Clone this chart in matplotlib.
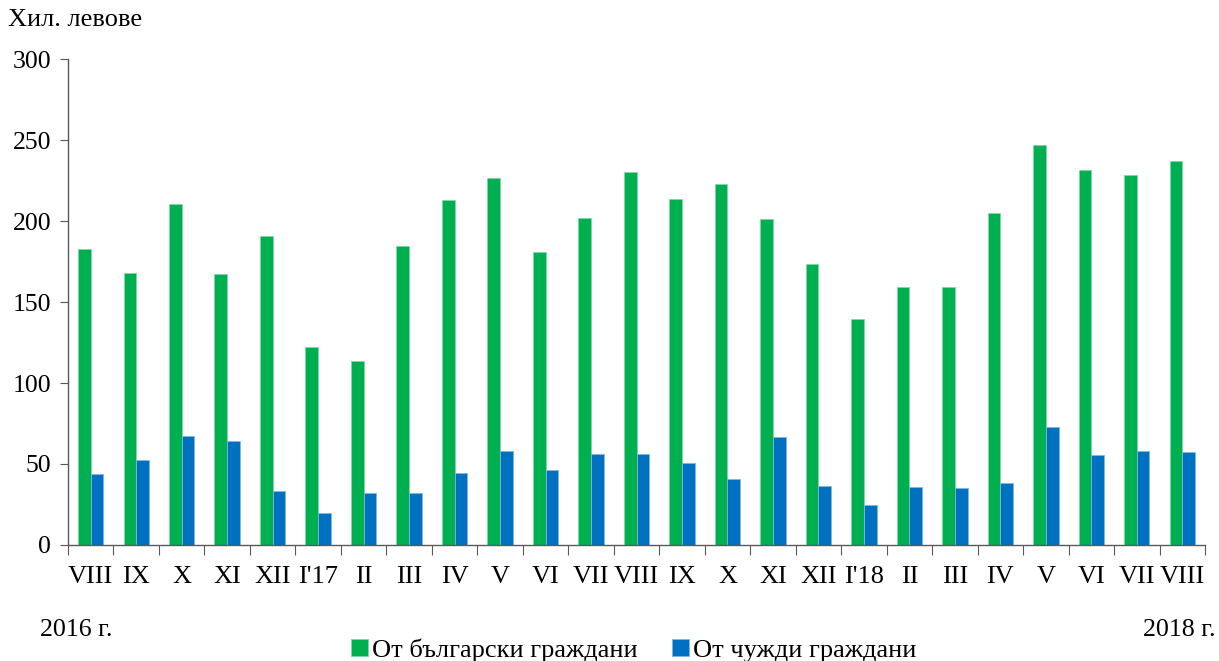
import matplotlib.pyplot as plt
import numpy as np

plt.rcParams['font.family'] = ['Liberation Serif', 'DejaVu Serif']

months = ['VIII', 'IX', 'X', 'XI', 'XII', "I'17", 'II', 'III', 'IV', 'V', 'VI', 'VII',
          'VIII', 'IX', 'X', 'XI', 'XII', "I'18", 'II', 'III', 'IV', 'V', 'VI', 'VII', 'VIII']
bulgarian = [183, 168, 210.5, 167, 191, 122, 113.4, 184.6, 213, 226.5, 180.7, 201.9,
             230.5, 213.8, 222.7, 201.5, 173.7, 139.5, 159.3, 159.3, 205.2, 247.2, 231.5, 228.2, 237]
foreign = [43.8, 52.5, 67.5, 64.4, 33.6, 20, 31.9, 31.9, 44.7, 58, 46.1, 56.4,
           56.4, 50.9, 40.6, 66.7, 36.7, 24.7, 35.8, 35.2, 38.3, 73.1, 55.8, 58, 57.2]

green = '#00B050'
blue = '#0070C0'
axis_col = '#595959'

fig = plt.figure(figsize=(12.19, 6.61), dpi=100)
ax = fig.add_axes([0.0558, 0.1755, 0.9327, 0.7352])

x = np.arange(len(months))
w = 0.28
ax.bar(x - w / 2, bulgarian, w, color=green, edgecolor='#7fd8a7', linewidth=0.6,
       label='От български граждани')
ax.bar(x + w / 2, foreign, w, color=blue, edgecolor='#7fb7e0', linewidth=0.6,
       label='От чужди граждани')

ax.set_xlim(-0.5, len(months) - 0.5)
ax.set_ylim(0, 300)
ax.set_yticks(range(0, 301, 50))
ax.tick_params(axis='y', labelsize=18.5, length=6, color=axis_col, direction='out', pad=6)

# boundary ticks as major, labels on minor ticks at centres
ax.set_xticks(np.arange(-0.5, len(months), 1))
ax.set_xticklabels([])
ax.set_xticks(x, minor=True)
ax.set_xticklabels(months, minor=True)
ax.tick_params(axis='x', which='major', length=7, color=axis_col, direction='out')
ax.tick_params(axis='x', which='minor', length=0, labelsize=19, pad=15)

for side in ['top', 'right']:
    ax.spines[side].set_visible(False)
for side in ['left', 'bottom']:
    ax.spines[side].set_color(axis_col)
    ax.spines[side].set_linewidth(1.0)

fig.text(0.0066, 1 - 20 / 661, 'Хил. левове', fontsize=19, va='center', ha='left')
fig.text(0.033, 1 - 630 / 661, '2016 г.', fontsize=18.7, va='center', ha='left')
fig.text(0.997, 1 - 630 / 661, '2018 г.', fontsize=18.7, va='center', ha='right')

fig.legend(loc='center', bbox_to_anchor=(0.52, 1 - 650 / 661), ncol=2, frameon=False,
           fontsize=19, handlelength=0.65, handleheight=0.65, handletextpad=0.15,
           columnspacing=1.3, borderpad=0)

fig.savefig('out.png', dpi=100)
